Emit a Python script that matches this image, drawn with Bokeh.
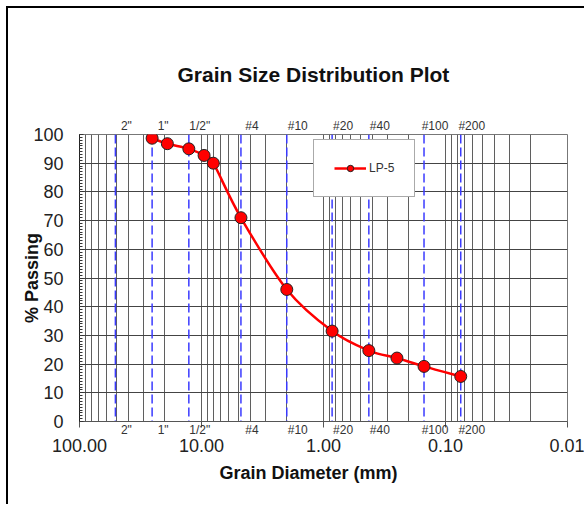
import numpy as np
from bokeh.plotting import figure
from bokeh.models import (LogAxis, FixedTicker, Range1d, Title, Legend, LegendItem,
                          Span, PrintfTickFormatter)
from bokeh.embed import file_html
from bokeh.resources import INLINE

FONT = "Liberation Sans"

# LP-5 gradation: particle size (mm) and percent passing
grain_mm = [25.4, 19.05, 12.7, 9.525, 8.0, 4.75, 2.0, 0.85, 0.425, 0.25, 0.15, 0.075]
pct_passing = [98.7, 96.8, 95.0, 92.7, 90.0, 71.0, 46.0, 31.5, 24.7, 22.1, 19.2, 15.7]

# standard sieves marked with dashed lines
sieve_names = ['2"', '1"', '1/2"', '#4', '#10', '#20', '#40', '#100', '#200']
sieve_mm = [50.8, 25.4, 12.7, 4.75, 2.0, 0.85, 0.425, 0.15, 0.075]

x_ticks = [100, 10, 1, 0.1, 0.01]
y_ticks = list(range(0, 101, 10))

FRAME_W = 488          # plot area width in px (4 log decades)
p = figure(width=578, height=498, x_axis_type="log",
           x_range=Range1d(100, 0.01), y_range=Range1d(0, 100),
           x_axis_location=None, output_backend="svg", toolbar_location=None,
           min_border_left=71, min_border_right=19, min_border_top=126,
           min_border_bottom=85)
p.styles = {"margin-left": "6px", "margin-top": "6px",
            "border-left": "2px solid #000", "border-top": "2px solid #000"}
p.outline_line_color = "#777777"
p.background_fill_color = "white"

# log-cycle grid: every 1..9 x 10^k
grid_x = [m * 10.0 ** k for k in range(-2, 2) for m in range(1, 10)] + [100.0]
p.xgrid.ticker = FixedTicker(ticks=grid_x)
p.xgrid.grid_line_color = "#5f5f5f"
p.ygrid.ticker = FixedTicker(ticks=y_ticks)
p.ygrid.grid_line_color = "#444444"

# y axis
yax = p.yaxis[0]
yax.ticker = FixedTicker(ticks=y_ticks, minor_ticks=list(range(0, 101)))
yax.major_tick_in = 4
yax.major_tick_out = 0
yax.minor_tick_in = 3
yax.minor_tick_out = 0
yax.major_tick_line_color = "#333333"
yax.minor_tick_line_color = "#333333"
yax.axis_line_color = "#222222"
yax.major_label_standoff = 16
yax.major_label_text_font = FONT
yax.major_label_text_font_size = "18px"
yax.major_label_text_color = "#222222"
yax.axis_label = "% Passing"
yax.axis_label_text_font = FONT
yax.axis_label_text_font_size = "18px"
yax.axis_label_text_font_style = "bold"
yax.axis_label_text_color = "#111111"
yax.axis_label_standoff = -12

# sieve names sit just to the right of their dashed line
shift = 10 ** (-4 * 11 / FRAME_W)
label_pos = [d * shift for d in sieve_mm]
sieve_overrides = {pos: name for pos, name in zip(label_pos, sieve_names)}


def sieve_axis(minor=None):
    ax = LogAxis(ticker=FixedTicker(ticks=label_pos, minor_ticks=minor or []))
    ax.major_label_overrides = sieve_overrides
    ax.major_tick_line_color = None
    ax.major_tick_out = 0
    ax.major_tick_in = 0
    ax.axis_line_color = None
    ax.major_label_text_font = FONT
    ax.major_label_text_font_size = "12px"
    ax.major_label_text_color = "#333333"
    return ax


top_ax = sieve_axis()
top_ax.major_label_standoff = 2
p.add_layout(top_ax, "above")

# bottom: sieve names, with the decade ticks drawn on the same axis line
bot_ax = sieve_axis(minor=x_ticks)
bot_ax.axis_line_color = "#555555"
bot_ax.minor_tick_line_color = "#555555"
bot_ax.minor_tick_out = 6
bot_ax.minor_tick_in = 0
bot_ax.major_label_standoff = -5
p.add_layout(bot_ax, "below")

# decade values
xax = LogAxis(ticker=FixedTicker(ticks=x_ticks),
              formatter=PrintfTickFormatter(format="%.2f"))
xax.axis_line_color = None
xax.major_tick_line_color = None
xax.major_tick_out = 0
xax.major_tick_in = 0
xax.major_label_standoff = -1
xax.major_label_text_font = FONT
xax.major_label_text_font_size = "18px"
xax.major_label_text_color = "#222222"
p.add_layout(xax, "below")

p.add_layout(Title(text="Grain Diameter (mm)", align="left", offset=140,
                   text_font=FONT, text_font_size="18px", text_font_style="bold",
                   text_color="#111111", standoff=12), "below")

# title
p.title.text = "Grain Size Distribution Plot"
p.title.text_font = FONT
p.title.text_font_size = "21px"
p.title.text_font_style = "bold"
p.title.text_color = "#111111"
p.title.align = "left"
p.title.offset = 98
p.title.standoff = 60

# dashed sieve lines
for d in sieve_mm:
    p.add_layout(Span(location=d, dimension="height", line_color="#3a3aff",
                      line_width=1.5, line_dash="9 4", level="underlay"))

# smoothed curve: cubic Bezier segments (Catmull-Rom tangents in log-x space)
u = np.log10(np.array(grain_mm))
v = np.array(pct_passing)
n = len(u)
x0, y0, x1, y1, cx0, cy0, cx1, cy1 = ([] for _ in range(8))
for i in range(n - 1):
    im = max(i - 1, 0)
    ip = min(i + 2, n - 1)
    c0u = u[i] + (u[i + 1] - u[im]) / 6.0
    c0v = v[i] + (v[i + 1] - v[im]) / 6.0
    c1u = u[i + 1] - (u[ip] - u[i]) / 6.0
    c1v = v[i + 1] - (v[ip] - v[i]) / 6.0
    x0.append(grain_mm[i]); y0.append(pct_passing[i])
    x1.append(grain_mm[i + 1]); y1.append(pct_passing[i + 1])
    cx0.append(10 ** c0u); cy0.append(c0v)
    cx1.append(10 ** c1u); cy1.append(c1v)

curve = p.bezier(x0=x0, y0=y0, x1=x1, y1=y1, cx0=cx0, cy0=cy0, cx1=cx1, cy1=cy1,
                 line_color="#ff0000", line_width=2.5)
pts = p.scatter(grain_mm, pct_passing, size=12, fill_color="#ff0000",
                line_color="#222222", line_width=1)

legend = Legend(items=[LegendItem(label="LP-5", renderers=[curve, pts])],
                location=(234, 224), margin=0, padding=20,
                glyph_width=32, glyph_height=16, label_height=14, label_standoff=3,
                label_text_font=FONT, label_text_font_size="12px",
                label_text_color="#333333",
                border_line_color="#555555", border_line_width=1,
                background_fill_color="white", background_fill_alpha=1)
p.add_layout(legend)

open("out.html", "w").write(file_html(p, INLINE))
